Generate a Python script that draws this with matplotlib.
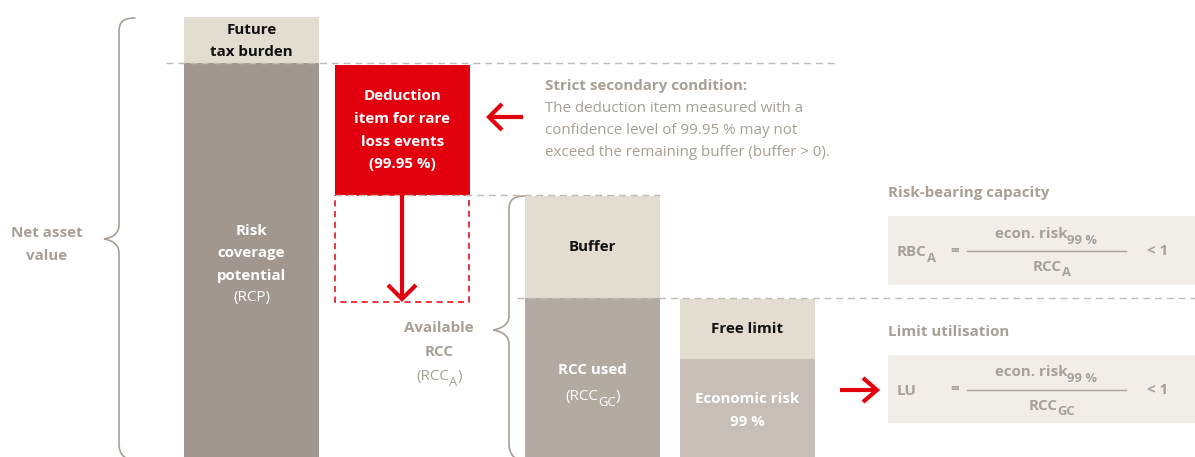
import matplotlib.pyplot as plt
from matplotlib.patches import Rectangle, PathPatch
from matplotlib.path import Path

plt.rcParams['font.family'] = ['Open Sans', 'DejaVu Sans']

# colours
BEIGE = '#e2dcd1'
RCP_C = '#a1978e'
USED_C = '#b3aaa2'
ECON_C = '#c6beb7'
RED = '#e2000f'
GREY_TXT = '#a89f96'
BOX_BG = '#f1eeea'
DASH_C = '#c3bcb5'
BRACE_C = '#a9a097'

# text content (parts flagged True are subscripts)
brace_labels = ["Net asset\nvalue", "Available\nRCC"]
rcc_a_label = [("(RCC", False), ("A", True), (")", False)]
tax_label = "Future\ntax burden"
rcp_label = ["Risk", "coverage", "potential"]
rcp_abbr = "(RCP)"
deduction_label = ["Deduction", "item for rare", "loss events", "(99.95 %)"]
condition_title = "Strict secondary condition:"
condition_text = ["The deduction item measured with a",
                  "confidence level of 99.95 % may not",
                  "exceed the remaining buffer (buffer > 0)."]
buffer_label = "Buffer"
used_label = "RCC used"
used_abbr = [("(RCC", False), ("GC", True), (")", False)]
free_label = "Free limit"
econ_label = ["Economic risk", "99 %"]
formula_titles = ["Risk-bearing capacity", "Limit utilisation"]
formula_lhs = [[("RBC", False), ("A", True)], [("LU", False)]]
formula_num = [("econ. risk", False), ("99 %", True)]
formula_den = [[("RCC", False), ("A", True)], [("RCC", False), ("GC", True)]]

FS = 10.9

fig = plt.figure(figsize=(11.95, 4.57), dpi=100)
ax = fig.add_axes([0, 0, 1, 1])
ax.set_xlim(0, 1195)
ax.set_ylim(457, 0)
ax.axis('off')
renderer = fig.canvas.get_renderer()


def box(x0, y0, x1, y1, color, **kw):
    ax.add_patch(Rectangle((x0, y0), x1 - x0, y1 - y0, facecolor=color,
                           edgecolor='none', **kw))


def dash(x0, x1, y, color=DASH_C):
    ax.plot([x0, x1], [y, y], color=color, lw=1.0, ls=(0, (5, 3.5)))


def brace(xv, ytop, ytip, ybot, xend_top, xtip, xend_bot):
    r = 14
    verts = [(xend_top, ytop), (xv + 4, ytop), (xv, ytop + 4), (xv, ytop + r),
             (xv, ytip - r),
             (xv, ytip - 4), (xtip + 6, ytip - 1), (xtip, ytip),
             (xtip + 6, ytip + 1), (xv, ytip + 4), (xv, ytip + r),
             (xv, ybot - r),
             (xv, ybot - 4), (xv + 4, ybot), (xend_bot, ybot + 2)]
    codes = [Path.MOVETO, Path.CURVE4, Path.CURVE4, Path.CURVE4,
             Path.LINETO,
             Path.CURVE4, Path.CURVE4, Path.CURVE4,
             Path.CURVE4, Path.CURVE4, Path.CURVE4,
             Path.LINETO,
             Path.CURVE4, Path.CURVE4, Path.CURVE4]
    ax.add_patch(PathPatch(Path(verts, codes), facecolor='none',
                           edgecolor=BRACE_C, lw=1.2, capstyle='round'))


def arrow(x0, y0, x1, y1, hx, hy):
    # shaft and open chevron head at (x1, y1)
    ax.plot([x0, x1], [y0, y1], color=RED, lw=3.0, solid_capstyle='butt')
    ax.plot([x1 + hx[0], x1, x1 + hx[1]], [y1 + hy[0], y1, y1 + hy[1]],
            color=RED, lw=3.0, solid_joinstyle='miter', solid_capstyle='butt')


def lines(x, ys, texts, color, weight='bold', size=FS):
    for y, t in zip(ys, texts):
        ax.text(x, y, t, ha='center', va='center', color=color,
                fontsize=size, fontweight=weight)


def rich(x, y, parts, color, weight='normal', ha='left', size=FS):
    # text with subscripts; y is the baseline of the main text
    arts = []
    for t, sub in parts:
        a = ax.text(0, y + (5.5 if sub else 0), t, ha='left', va='baseline',
                    color=color, fontsize=size * (0.86 if sub else 1.0),
                    fontweight=weight)
        w = a.get_window_extent(renderer).width
        arts.append((a, w))
    total = sum(w for _, w in arts)
    cx = x - total / 2 if ha == 'center' else x
    for a, w in arts:
        a.set_x(cx)
        cx += w


# dashed guide lines
dash(166, 835, 63)
dash(335, 660, 195)
dash(517, 1195, 298)

# left column
box(184, 17, 319, 63, BEIGE)
box(184, 63, 319, 460, RCP_C)
lines(251.5, [30, 52], tax_label.split('\n'), '#111111')
lines(251.5, [231, 253, 276], rcp_label, 'white')
lines(251.5, [298], [rcp_abbr], 'white', weight='normal')

# net asset value brace
brace(119, 18, 239, 457, 135, 104, 128)
lines(47, [233, 256], brace_labels[0].split('\n'), GREY_TXT)

# deduction item
box(335, 65, 470, 195, RED)
lines(402.5, [96, 119, 142, 164], deduction_label, 'white')
ax.add_patch(Rectangle((335.5, 195), 134, 106.5, facecolor='none',
                       edgecolor=RED, lw=1.1, ls=(0, (4, 3))))
arrow(402, 195, 402, 299, (-14, 14), (-14, -14))
arrow(523, 117, 489, 117, (13, 13), (-13, 13))

# strict condition note
ax.text(545, 86, condition_title, ha='left', va='center', color=GREY_TXT,
        fontsize=FS, fontweight='bold')
for y, t in zip([108, 130, 153], condition_text):
    ax.text(545, y, t, ha='left', va='center', color=GREY_TXT, fontsize=FS)

# available RCC brace
brace(509, 196, 330, 457, 525, 493, 517)
lines(439, [328, 352], brace_labels[1].split('\n'), GREY_TXT)
rich(439, 380, rcc_a_label, GREY_TXT, ha='center')

# buffer / RCC used column
box(525, 196, 660, 298, BEIGE)
box(525, 298, 660, 460, USED_C)
lines(592.5, [247], [buffer_label], '#111111')
lines(592.5, [370], [used_label], 'white')
rich(592.5, 400, used_abbr, 'white', ha='center')

# free limit / economic risk column
box(680, 299, 815, 359, BEIGE)
box(680, 359, 815, 460, ECON_C)
lines(747.5, [329], [free_label], '#111111')
lines(747.5, [399, 422], econ_label, 'white')

# formula panels
arrow(840, 390, 877, 390, (-14, -14), (-12, 12))
for k, (y0, y1) in enumerate([(216, 285), (355, 423)]):
    ym = (y0 + y1) / 2 + 0.5
    ax.text(888, y0 - 23, formula_titles[k], ha='left', va='center',
            color=GREY_TXT, fontsize=FS, fontweight='bold')
    box(888, y0, 1195, y1, BOX_BG)
    rich(897, ym + 5.5, formula_lhs[k], GREY_TXT, weight='bold')
    ax.text(955, ym, "=", ha='center', va='center', color=GREY_TXT,
            fontsize=FS, fontweight='bold')
    ax.plot([967, 1126], [ym, ym], color=GREY_TXT, lw=1.0)
    rich(1046, ym - 13, formula_num, GREY_TXT, weight='bold', ha='center')
    rich(1052, ym + 20, formula_den[k], GREY_TXT, weight='bold', ha='center')
    ax.text(1158, ym, "< 1", ha='center', va='center', color=GREY_TXT,
            fontsize=FS, fontweight='bold')

fig.savefig('out.png', dpi=100, facecolor='white')
